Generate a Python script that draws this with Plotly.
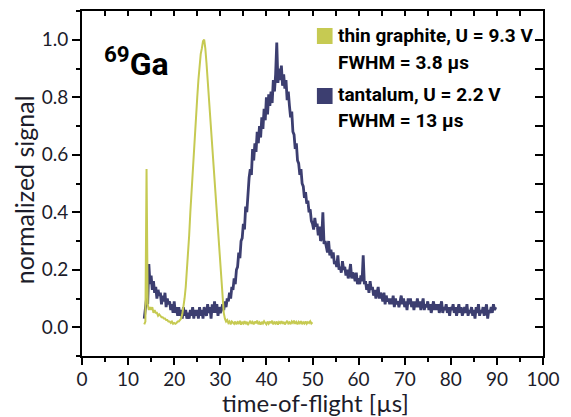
import numpy as np
import plotly.graph_objects as go

# ---- data ----
T0 = 13.5          # first sample time [us]
DT = 0.25          # sample spacing [us]

tantalum = [
    0.03, 0.06, 0.10, 0.08, 0.22, 0.15,
    0.18, 0.13, 0.16, 0.12, 0.14, 0.10, 0.13, 0.11,
    0.12, 0.08, 0.11, 0.09, 0.12, 0.07, 0.10, 0.08,
    0.09, 0.06, 0.08, 0.05, 0.09, 0.05, 0.07, 0.04,
    0.07, 0.04, 0.06, 0.03, 0.07, 0.04, 0.06, 0.03,
    0.05, 0.03, 0.06, 0.04, 0.07, 0.03, 0.06, 0.04,
    0.06, 0.03, 0.07, 0.04, 0.06, 0.03, 0.07, 0.05,
    0.04, 0.08, 0.05, 0.07, 0.03, 0.08, 0.05, 0.09,
    0.05, 0.08, 0.04, 0.07, 0.05, 0.06, 0.08, 0.06,
    0.09, 0.07, 0.10, 0.09, 0.12, 0.10, 0.14, 0.13,
    0.17, 0.15, 0.20, 0.21, 0.26, 0.24, 0.30, 0.31,
    0.36, 0.34, 0.42, 0.40, 0.48, 0.52, 0.55, 0.53,
    0.62, 0.58, 0.64, 0.61, 0.68, 0.64, 0.70, 0.66,
    0.73, 0.69, 0.76, 0.72, 0.80, 0.74, 0.81, 0.77,
    0.82, 0.78, 0.86, 0.82, 0.88, 0.99, 0.85, 0.90,
    0.86, 0.91, 0.84, 0.88, 0.83, 0.86, 0.79, 0.82,
    0.77, 0.73, 0.75, 0.68, 0.67, 0.62, 0.64, 0.58,
    0.57, 0.53, 0.55, 0.50, 0.49, 0.45, 0.47, 0.43,
    0.44, 0.40, 0.41, 0.37, 0.36, 0.34, 0.38, 0.35,
    0.36, 0.32, 0.35, 0.30, 0.31, 0.40, 0.29, 0.30,
    0.28, 0.26, 0.30, 0.25, 0.27, 0.24, 0.26, 0.22,
    0.23, 0.21, 0.25, 0.20, 0.21, 0.19, 0.23, 0.20,
    0.21, 0.18, 0.20, 0.17, 0.19, 0.22, 0.17, 0.19,
    0.18, 0.16, 0.19, 0.15, 0.17, 0.15, 0.18, 0.16,
    0.25, 0.15, 0.16, 0.13, 0.15, 0.12, 0.16, 0.13,
    0.14, 0.11, 0.13, 0.10, 0.12, 0.14, 0.10, 0.12,
    0.11, 0.09, 0.12, 0.08, 0.11, 0.09, 0.10, 0.08,
    0.10, 0.08, 0.11, 0.07, 0.10, 0.08, 0.09, 0.07,
    0.09, 0.11, 0.08, 0.10, 0.07, 0.09, 0.06, 0.10,
    0.08, 0.10, 0.07, 0.09, 0.06, 0.09, 0.07, 0.10,
    0.07, 0.09, 0.06, 0.08, 0.10, 0.06, 0.08, 0.07,
    0.09, 0.06, 0.08, 0.05, 0.07, 0.09, 0.06, 0.08,
    0.06, 0.08, 0.05, 0.07, 0.09, 0.05, 0.07, 0.06,
    0.08, 0.05, 0.07, 0.04, 0.07, 0.06, 0.08, 0.05,
    0.07, 0.04, 0.06, 0.08, 0.05, 0.07, 0.04, 0.06,
    0.07, 0.05, 0.08, 0.04, 0.06, 0.05, 0.07, 0.04,
    0.06, 0.03, 0.07, 0.05, 0.08, 0.04, 0.06, 0.05,
    0.07, 0.04, 0.06, 0.08, 0.03, 0.06, 0.05, 0.07,
    0.05, 0.08, 0.06, 0.07,
]

graphite = [
    0.01, 0.02, 0.55, 0.08, 0.06, 0.07,
    0.06, 0.07, 0.05, 0.06, 0.05, 0.05, 0.04, 0.045,
    0.04, 0.035, 0.035, 0.03, 0.03, 0.025, 0.025, 0.02,
    0.02, 0.015, 0.02, 0.012, 0.015, 0.012, 0.015, 0.02,
    0.02, 0.025, 0.03, 0.045, 0.07, 0.10, 0.14, 0.19,
    0.25, 0.32, 0.40, 0.47, 0.55, 0.63, 0.70, 0.76,
    0.80, 0.86, 0.91, 0.95, 0.97, 0.995, 1.0, 0.97,
    0.92, 0.86, 0.80, 0.74, 0.68, 0.62, 0.56, 0.50,
    0.44, 0.38, 0.32, 0.26, 0.20, 0.14, 0.09, 0.05,
    0.03, 0.02, 0.025, 0.015, 0.02, 0.01, 0.02, 0.015,
    0.012, 0.02, 0.01, 0.018, 0.014, 0.022, 0.009, 0.017,
    0.013, 0.021, 0.011, 0.019, 0.008, 0.016, 0.022, 0.012,
    0.018, 0.01, 0.02, 0.014, 0.023, 0.011, 0.017, 0.009,
    0.019, 0.013, 0.021, 0.015, 0.01, 0.02, 0.012, 0.018,
    0.016, 0.022, 0.01, 0.017, 0.013, 0.02, 0.009, 0.018,
    0.014, 0.021, 0.012, 0.019, 0.01, 0.016, 0.022, 0.013,
    0.017, 0.011, 0.02, 0.015, 0.023, 0.012, 0.018, 0.01,
    0.019, 0.014, 0.021, 0.011, 0.017, 0.013, 0.02, 0.012,
    0.018, 0.015, 0.021, 0.013, 0.017,
]

legend_lines = [
    ("thin graphite, U = 9.3 V", "FWHM = 3.8 µs"),
    ("tantalum, U = 2.2 V", "FWHM = 13 µs"),
]
x_ticks = list(range(0, 101, 10))
y_ticks = [0.0, 0.2, 0.4, 0.6, 0.8, 1.0]

# ---- style ----
C_GR = "#c6ca52"
C_TA = "#3c3e70"
W, H = 571, 417
L, R, T, B = 82, 18, 11, 61
PW, PH = W - L - R, H - T - B
TXT = "#1c1c2a"
LEG_FONT = "Roboto"


def px(xp):
    return (xp - L) / PW


def py(yp):
    return (H - B - yp) / PH


x_ta = T0 + DT * np.arange(len(tantalum))
x_gr = T0 + DT * np.arange(len(graphite))

fig = go.Figure()
fig.add_trace(go.Scatter(x=x_ta, y=tantalum, mode="lines",
                         line=dict(color=C_TA, width=2.8), showlegend=False))
fig.add_trace(go.Scatter(x=x_gr, y=graphite, mode="lines",
                         line=dict(color=C_GR, width=2.0), showlegend=False))
fig.add_trace(go.Scatter(x=[None], y=[None], xaxis="x2", yaxis="y2",
                         showlegend=False, hoverinfo="skip"))

axis_common = dict(showline=True, linewidth=2, linecolor="black", showgrid=False,
                   zeroline=False, tickcolor="black", tickwidth=1.5)

fig.update_layout(
    width=W, height=H,
    margin=dict(l=L, r=R, t=T, b=B),
    paper_bgcolor="white", plot_bgcolor="white",
    xaxis=dict(range=[0, 100], tickvals=x_ticks, ticks="outside", ticklen=7,
               ticklabelstandoff=-2,
               minor=dict(dtick=5, tick0=0, ticks="outside", ticklen=4,
                          tickcolor="black", tickwidth=1.5),
               tickfont=dict(family="Lato", size=19, color=TXT), **axis_common),
    yaxis=dict(range=[-0.1, 1.1], tickvals=y_ticks, tickformat=".1f",
               ticks="outside", ticklen=8,
               minor=dict(dtick=0.1, tick0=0, ticks="outside", ticklen=4,
                          tickcolor="black", tickwidth=1.5),
               tickfont=dict(family="Lato", size=19, color=TXT), **axis_common),
    xaxis2=dict(range=[0, 100], overlaying="x", side="top", dtick=5, tick0=0,
                ticks="inside", ticklen=5, showticklabels=False, **axis_common),
    yaxis2=dict(range=[-0.1, 1.1], overlaying="y", side="right", dtick=0.1, tick0=0,
                ticks="inside", ticklen=8, showticklabels=False, **axis_common),
)

# axis titles
fig.add_annotation(text="time-of-flight [µs]", xref="paper", yref="paper",
                   x=px(321), y=py(402), xanchor="center", yanchor="middle",
                   showarrow=False, font=dict(family="Lato", size=24, color=TXT))
fig.add_annotation(text="normalized signal", xref="paper", yref="paper",
                   x=px(23), y=py(190), xanchor="center", yanchor="middle",
                   textangle=-90, showarrow=False,
                   font=dict(family="Lato", size=25, color=TXT))

# isotope label
fig.add_annotation(text="<sup>69</sup>Ga", xref="paper", yref="paper",
                   x=px(102), y=py(62), xanchor="left", yanchor="middle",
                   showarrow=False,
                   font=dict(family=LEG_FONT, size=32, color="black", weight="bold"))

# legend (squares + text)
rows_y = [(36, 64), (95, 121)]
colors = [C_GR, C_TA]
sq_y = [(28, 44), (88, 104)]
for (l1, l2), (y1, y2), c, (sy0, sy1) in zip(legend_lines, rows_y, colors, sq_y):
    fig.add_shape(type="rect", xref="paper", yref="paper",
                  x0=px(322), x1=px(338), y0=py(sy1), y1=py(sy0),
                  fillcolor=c, line=dict(width=0))
    for txt, yy in ((l1, y1), (l2, y2)):
        fig.add_annotation(text=txt, xref="paper", yref="paper",
                           x=px(342), y=py(yy - 1), xanchor="left", yanchor="middle",
                           showarrow=False,
                           font=dict(family=LEG_FONT, size=19, color="black",
                                     weight="bold"))

fig.write_html("out.html")
